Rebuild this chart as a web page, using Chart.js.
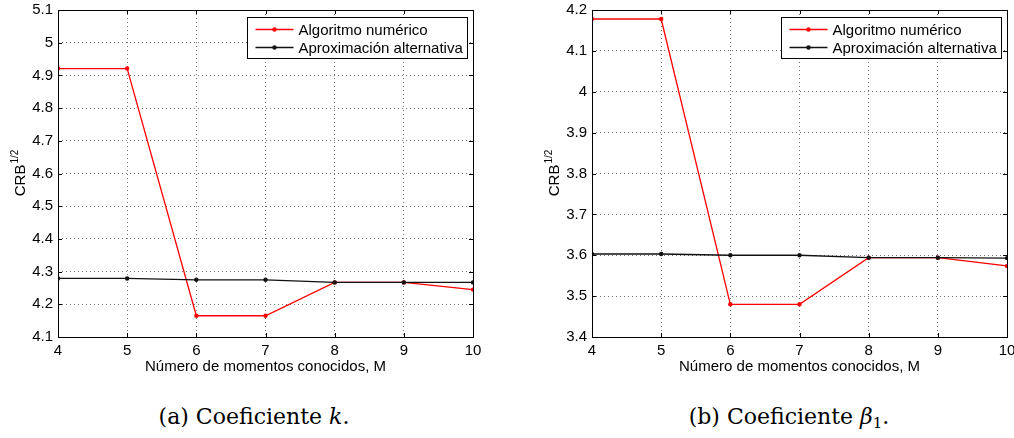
<!DOCTYPE html>
<html>
<head>
<meta charset="utf-8">
<script src="https://cdn.jsdelivr.net/npm/chart.js@4.4.1/dist/chart.umd.min.js"></script>
<style>
  body { margin: 0; width: 1014px; height: 438px; overflow: hidden; background: #fff; position: relative; }
  canvas { position: absolute; top: 0; }
  #chartK { left: 0; }
  #chartBeta { left: 534px; }
  .caption {
    position: absolute; top: 404px; width: 300px; text-align: center;
    font-family: "DejaVu Serif", serif; font-size: 22px; color: #000; white-space: nowrap;
  }
  .caption sub { font-size: 15px; vertical-align: -4px; line-height: 0; }
</style>
</head>
<body>
<canvas id="chartK" width="500" height="380"></canvas>
<canvas id="chartBeta" width="500" height="380"></canvas>
<div class="caption" style="left:104px">(a) Coeficiente <i>k</i>.</div>
<div class="caption" style="left:639px">(b) Coeficiente <i>β</i><sub>1</sub>.</div>

<script>
// datos
const moments = [4, 5, 6, 7, 8, 9, 10];
const numericK = [4.921, 4.921, 4.165, 4.165, 4.267, 4.267, 4.245];
const altK = [4.279, 4.279, 4.275, 4.275, 4.267, 4.267, 4.267];
const numericBeta = [4.178, 4.178, 3.480, 3.480, 3.594, 3.594, 3.574];
const altBeta = [3.603, 3.603, 3.600, 3.600, 3.594, 3.594, 3.593];
const seriesNames = ['Algoritmo numérico', 'Aproximación alternativa'];
const seriesColors = ['#ff0000', '#111111'];
const xTitle = 'Número de momentos conocidos, M';
const yTitle = 'CRB';
const yTitleSup = '1/2';

const FONT = '"Liberation Sans", Arial, sans-serif';

// caja, marcas hacia dentro (estilo MATLAB)
const framePlugin = {
    id: 'frame',
    afterDraw(chart) {
        const { ctx, chartArea: a, scales } = chart;
        ctx.save();
        ctx.strokeStyle = '#000';
        ctx.lineWidth = 1;
        ctx.beginPath();
        scales.x.ticks.forEach(t => {
            const px = Math.round(scales.x.getPixelForValue(t.value)) + 0.5;
            ctx.moveTo(px, a.bottom); ctx.lineTo(px, a.bottom - 4);
            ctx.moveTo(px, a.top); ctx.lineTo(px, a.top + 4);
        });
        scales.y.ticks.forEach(t => {
            const py = Math.round(scales.y.getPixelForValue(t.value)) + 0.5;
            ctx.moveTo(a.left, py); ctx.lineTo(a.left + 4, py);
            ctx.moveTo(a.right, py); ctx.lineTo(a.right - 4, py);
        });
        ctx.stroke();
        ctx.strokeRect(Math.round(a.left) + 0.5, Math.round(a.top) + 0.5,
            Math.round(a.right - a.left), Math.round(a.bottom - a.top));
        ctx.restore();
    }
};

// título del eje y con superíndice
const yTitlePlugin = {
    id: 'yTitle',
    afterDraw(chart) {
        const { ctx, chartArea: a } = chart;
        ctx.save();
        ctx.translate(25, (a.top + a.bottom) / 2);
        ctx.rotate(-Math.PI / 2);
        ctx.fillStyle = '#000';
        ctx.textBaseline = 'alphabetic';
        ctx.font = '15px ' + FONT;
        const w1 = ctx.measureText(yTitle).width;
        ctx.font = '10px ' + FONT;
        const w2 = ctx.measureText(yTitleSup).width;
        const x0 = -(w1 + w2) / 2;
        ctx.font = '15px ' + FONT;
        ctx.fillText(yTitle, x0, 0);
        ctx.font = '10px ' + FONT;
        ctx.fillText(yTitleSup, x0 + w1 + 1, -7);
        ctx.restore();
    }
};

// leyenda dentro del área (esquina superior derecha)
const legendPlugin = {
    id: 'boxLegend',
    afterDraw(chart) {
        const { ctx, chartArea: a } = chart;
        const sets = chart.data.datasets;
        ctx.save();
        ctx.font = '15px ' + FONT;
        const tw = Math.max(...sets.map(d => ctx.measureText(d.label).width));
        const w = Math.round(51 + tw + 5), h = 41;
        const x = Math.round(a.right - 6 - w) + 0.5, y = Math.round(a.top + 7) + 0.5;
        ctx.fillStyle = '#fff';
        ctx.fillRect(x, y, w, h);
        ctx.strokeStyle = '#000';
        ctx.lineWidth = 1;
        ctx.strokeRect(x, y, w, h);
        sets.forEach((d, i) => {
            const cy = y + 12 + i * 18;
            ctx.strokeStyle = d.borderColor;
            ctx.lineWidth = 1.3;
            ctx.beginPath();
            ctx.moveTo(x + 8, cy); ctx.lineTo(x + 46, cy);
            ctx.stroke();
            ctx.fillStyle = d.borderColor;
            ctx.beginPath();
            ctx.arc(x + 27, cy, 2.2, 0, Math.PI * 2);
            ctx.fill();
            ctx.fillStyle = '#000';
            ctx.textBaseline = 'middle';
            ctx.fillText(d.label, x + 51, cy + 1);
        });
        ctx.restore();
    }
};

function makeChart(id, numeric, alt, yMin, yMax) {
    const ctx = document.getElementById(id).getContext('2d');
    const series = [numeric, alt];
    return new Chart(ctx, {
        type: 'line',
        data: {
            datasets: series.map((vals, i) => ({
                label: seriesNames[i],
                data: moments.map((m, j) => ({ x: m, y: vals[j] })),
                borderColor: seriesColors[i],
                backgroundColor: seriesColors[i],
                borderWidth: 1.3,
                pointRadius: 2.2,
                pointBorderWidth: 0,
                pointBackgroundColor: seriesColors[i],
                tension: 0,
                order: 1 - i
            }))
        },
        options: {
            responsive: false,
            animation: false,
            devicePixelRatio: 1,
            layout: { padding: { left: 0, right: 27, top: 10, bottom: 0 } },
            plugins: { legend: { display: false }, tooltip: { enabled: false } },
            scales: {
                x: {
                    type: 'linear', min: 4, max: 10,
                    ticks: { stepSize: 1, padding: 5, color: '#000', font: { family: FONT, size: 15 }, maxRotation: 0 },
                    grid: { color: 'rgba(0,0,0,0.55)', lineWidth: 1, drawTicks: false },
                    border: { display: false, dash: [1, 3] },
                    title: { display: true, text: xTitle, color: '#000', font: { family: FONT, size: 15 }, padding: { top: 0, bottom: 4 } },
                    afterFit(s) { s.height = 43; s.paddingLeft = 0; s.paddingRight = 0; }
                },
                y: {
                    min: yMin, max: yMax,
                    ticks: {
                        stepSize: 0.1, padding: 5, color: '#000', font: { family: FONT, size: 15 },
                        callback: v => String(Number(v.toFixed(2)))
                    },
                    grid: { color: 'rgba(0,0,0,0.55)', lineWidth: 1, drawTicks: false },
                    border: { display: false, dash: [1, 3] },
                    afterFit(s) { s.width = 58; s.paddingTop = 0; s.paddingBottom = 0; }
                }
            }
        },
        plugins: [framePlugin, yTitlePlugin, legendPlugin]
    });
}

makeChart('chartK', numericK, altK, 4.1, 5.1);
makeChart('chartBeta', numericBeta, altBeta, 3.4, 4.2);
</script>
</body>
</html>
